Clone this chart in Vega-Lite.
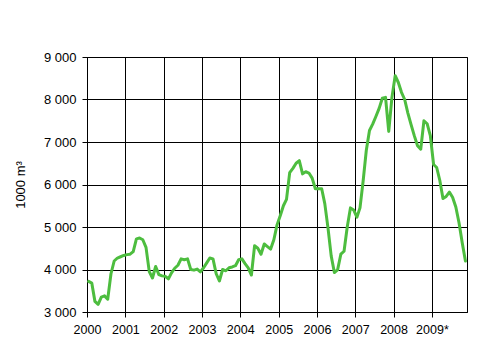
{
  "$schema": "https://vega.github.io/schema/vega-lite/v6.json",
  "width": 380,
  "height": 255,
  "autosize": "none",
  "padding": {"left": 87, "top": 57, "right": 34, "bottom": 36},
  "background": "white",
  "config": {
    "font": "Liberation Sans",
    "view": {"stroke": "black", "strokeWidth": 1},
    "axis": {
      "labelFont": "Liberation Sans",
      "titleFont": "Liberation Sans",
      "labelColor": "black",
      "titleColor": "black",
      "domainColor": "black",
      "tickColor": "black",
      "gridColor": "black",
      "gridOpacity": 1,
      "gridWidth": 1,
      "domainWidth": 1,
      "tickWidth": 1
    }
  },
  "datasets": {
    "series": [
      {"date": "2000-01", "value": 3720}, {"date": "2000-02", "value": 3680}, {"date": "2000-03", "value": 3250}, {"date": "2000-04", "value": 3180},
      {"date": "2000-05", "value": 3350}, {"date": "2000-06", "value": 3380}, {"date": "2000-07", "value": 3300}, {"date": "2000-08", "value": 3900},
      {"date": "2000-09", "value": 4200}, {"date": "2000-10", "value": 4270}, {"date": "2000-11", "value": 4300}, {"date": "2000-12", "value": 4330},
      {"date": "2001-01", "value": 4350}, {"date": "2001-02", "value": 4360}, {"date": "2001-03", "value": 4420}, {"date": "2001-04", "value": 4720},
      {"date": "2001-05", "value": 4740}, {"date": "2001-06", "value": 4700}, {"date": "2001-07", "value": 4520}, {"date": "2001-08", "value": 3950},
      {"date": "2001-09", "value": 3800}, {"date": "2001-10", "value": 4070}, {"date": "2001-11", "value": 3880}, {"date": "2001-12", "value": 3850},
      {"date": "2002-01", "value": 3840}, {"date": "2002-02", "value": 3780}, {"date": "2002-03", "value": 3920}, {"date": "2002-04", "value": 4030},
      {"date": "2002-05", "value": 4100}, {"date": "2002-06", "value": 4250}, {"date": "2002-07", "value": 4230}, {"date": "2002-08", "value": 4250},
      {"date": "2002-09", "value": 4000}, {"date": "2002-10", "value": 3985}, {"date": "2002-11", "value": 4010}, {"date": "2002-12", "value": 3945},
      {"date": "2003-01", "value": 4040}, {"date": "2003-02", "value": 4155}, {"date": "2003-03", "value": 4270}, {"date": "2003-04", "value": 4250},
      {"date": "2003-05", "value": 3900}, {"date": "2003-06", "value": 3730}, {"date": "2003-07", "value": 4000}, {"date": "2003-08", "value": 3970},
      {"date": "2003-09", "value": 4040}, {"date": "2003-10", "value": 4060}, {"date": "2003-11", "value": 4090}, {"date": "2003-12", "value": 4230},
      {"date": "2004-01", "value": 4250}, {"date": "2004-02", "value": 4140}, {"date": "2004-03", "value": 4040}, {"date": "2004-04", "value": 3870},
      {"date": "2004-05", "value": 4560}, {"date": "2004-06", "value": 4500}, {"date": "2004-07", "value": 4360}, {"date": "2004-08", "value": 4600},
      {"date": "2004-09", "value": 4540}, {"date": "2004-10", "value": 4480}, {"date": "2004-11", "value": 4700}, {"date": "2004-12", "value": 5050},
      {"date": "2005-01", "value": 5270}, {"date": "2005-02", "value": 5500}, {"date": "2005-03", "value": 5650}, {"date": "2005-04", "value": 6280},
      {"date": "2005-05", "value": 6380}, {"date": "2005-06", "value": 6500}, {"date": "2005-07", "value": 6560}, {"date": "2005-08", "value": 6250},
      {"date": "2005-09", "value": 6300}, {"date": "2005-10", "value": 6270}, {"date": "2005-11", "value": 6150}, {"date": "2005-12", "value": 5900},
      {"date": "2006-01", "value": 5900}, {"date": "2006-02", "value": 5900}, {"date": "2006-03", "value": 5550}, {"date": "2006-04", "value": 4980},
      {"date": "2006-05", "value": 4320}, {"date": "2006-06", "value": 3930}, {"date": "2006-07", "value": 3990}, {"date": "2006-08", "value": 4360},
      {"date": "2006-09", "value": 4430}, {"date": "2006-10", "value": 5000}, {"date": "2006-11", "value": 5450}, {"date": "2006-12", "value": 5400},
      {"date": "2007-01", "value": 5230}, {"date": "2007-02", "value": 5450}, {"date": "2007-03", "value": 6070}, {"date": "2007-04", "value": 6800},
      {"date": "2007-05", "value": 7270}, {"date": "2007-06", "value": 7420}, {"date": "2007-07", "value": 7600}, {"date": "2007-08", "value": 7790},
      {"date": "2007-09", "value": 8030}, {"date": "2007-10", "value": 8050}, {"date": "2007-11", "value": 7250}, {"date": "2007-12", "value": 8050},
      {"date": "2008-01", "value": 8560}, {"date": "2008-02", "value": 8400}, {"date": "2008-03", "value": 8170}, {"date": "2008-04", "value": 8000},
      {"date": "2008-05", "value": 7680}, {"date": "2008-06", "value": 7410}, {"date": "2008-07", "value": 7150}, {"date": "2008-08", "value": 6910},
      {"date": "2008-09", "value": 6830}, {"date": "2008-10", "value": 7500}, {"date": "2008-11", "value": 7430}, {"date": "2008-12", "value": 7150},
      {"date": "2009-01", "value": 6470}, {"date": "2009-02", "value": 6400}, {"date": "2009-03", "value": 6100}, {"date": "2009-04", "value": 5670},
      {"date": "2009-05", "value": 5720}, {"date": "2009-06", "value": 5820}, {"date": "2009-07", "value": 5700}, {"date": "2009-08", "value": 5470},
      {"date": "2009-09", "value": 5100}, {"date": "2009-10", "value": 4630}, {"date": "2009-11", "value": 4200}
    ]
  },
  "data": {"name": "series"},
  "mark": {"type": "line", "color": "#4DBD3F", "strokeWidth": 3, "strokeJoin": "round", "strokeCap": "round", "clip": true},
  "encoding": {
    "x": {
      "field": "date",
      "type": "temporal",
      "timeUnit": "utcyearmonth",
      "bandPosition": 0.5,
      "scale": {
        "type": "utc",
        "domain": [
          {"year": 2000, "month": 1, "date": 1, "utc": true},
          {"year": 2009, "month": 12, "date": 1, "utc": true}
        ]
      },
      "axis": {
        "title": null,
        "grid": true,
        "tickCount": {"interval": "year", "step": 1},
        "labelExpr": "utcyear(datum.value) == 2009 ? '2009*' : utcFormat(datum.value, '%Y')",
        "labelFontSize": 12.5,
        "tickSize": 5,
        "labelPadding": 6,
        "labelFlush": false,
        "labelOverlap": false
      }
    },
    "y": {
      "field": "value",
      "type": "quantitative",
      "scale": {"domain": [3000, 9000], "nice": false, "zero": false},
      "axis": {
        "title": "1000 m³",
        "titleFontSize": 13,
        "titleFontWeight": "normal",
        "titlePadding": 16,
        "values": [3000, 4000, 5000, 6000, 7000, 8000, 9000],
        "labelExpr": "replace(format(datum.value, ','), ',', ' ')",
        "labelFontSize": 13,
        "tickSize": 5,
        "labelPadding": 6,
        "grid": true
      }
    }
  }
}
